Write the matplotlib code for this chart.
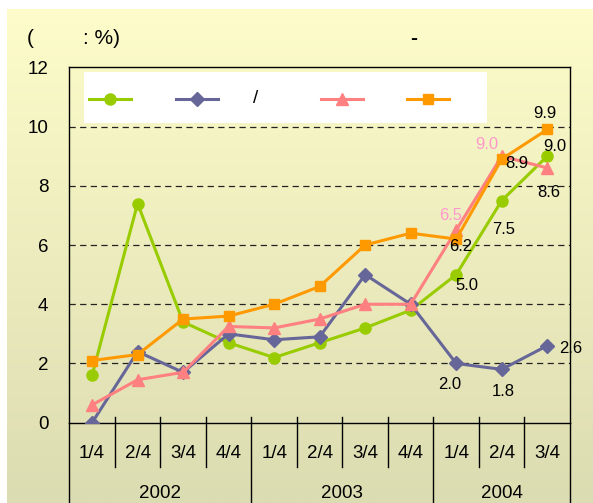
import numpy as np
import matplotlib
matplotlib.use("Agg")
import matplotlib.pyplot as plt
from matplotlib.lines import Line2D
from matplotlib.patches import Rectangle

plt.rcParams['font.family'] = ['Liberation Sans', 'DejaVu Sans']

# data
quarters = ["1/4", "2/4", "3/4", "4/4", "1/4", "2/4", "3/4", "4/4", "1/4", "2/4", "3/4"]
years = ["2002", "2003", "2004"]
year_span = [(0, 3), (4, 7), (8, 10)]
green = [1.6, 7.4, 3.4, 2.7, 2.2, 2.7, 3.2, 3.8, 5.0, 7.5, 9.0]
blue = [0.0, 2.4, 1.7, 3.0, 2.8, 2.9, 5.0, 4.0, 2.0, 1.8, 2.6]
pink = [0.6, 1.45, 1.7, 3.25, 3.2, 3.5, 4.0, 4.0, 6.5, 9.0, 8.6]
orange = [2.1, 2.3, 3.5, 3.6, 4.0, 4.6, 6.0, 6.4, 6.2, 8.9, 9.9]

series = [
    (green, '#99CC00', 'o', 8),
    (blue, '#666699', 'D', 7),
    (pink, '#FF8080', '^', 8),
    (orange, '#FF9900', 's', 6.5),
]

# (index, dx px, dy px, color) for the value labels
labels = [
    [(8, 11, -11, 'k'), (9, 2, -29, 'k'), (10, 8, 10, 'k')],
    [(8, -7, -21, 'k'), (9, 2, -22, 'k'), (10, 23, -3, 'k')],
    [(8, -6, 15, '#FF99CC'), (9, -15, 12, '#FF99CC'), (10, 2, -25, 'k')],
    [(8, 4, -7, 'k'), (9, 15, -4, 'k'), (10, -2, 16, 'k')],
]

W, H = 593, 503
fig = plt.figure(figsize=(W / 100, H / 100), dpi=100)
fig.patch.set_facecolor('white')

# gradient background
bg = fig.add_axes([7 / W, 0, 1 - 7 / W, 1 - 9 / H])
top = np.array([253, 252, 202]) / 255
bot = np.array([220, 220, 178]) / 255
t = np.linspace(0, 1, 256)[:, None]
grad = top + (bot - top) * t
bg.imshow(grad[:, None, :], aspect='auto', extent=[0, 1, 0, 1])
bg.axis('off')

ax = fig.add_axes([69.3 / W, (H - 422.7) / H, 500.7 / W, 355.4 / H])
ax.set_facecolor('none')
x = np.arange(len(quarters))

for yy in [2, 4, 6, 8, 10]:
    ax.axhline(yy, color='#222222', lw=0.9, dashes=(5, 3.5), zorder=1)

for (vals, col, mk, ms), lab in zip(series, labels):
    ax.plot(x, vals, color=col, lw=2.2, marker=mk, ms=ms, mec=col, mfc=col, zorder=3)
    for i, dx, dy, c in lab:
        ax.annotate(f"{vals[i]:.1f}", (x[i], vals[i]), xytext=(dx, dy),
                    textcoords='offset pixels', ha='center', va='center',
                    fontsize=12, color=c, zorder=5)

ax.set_xlim(-0.5, 10.5)
ax.set_ylim(0, 12)
ax.set_yticks(range(0, 13, 2))
ax.tick_params(axis='y', length=0, pad=15, labelsize=13.5)
ax.set_xticks([])
for s in ax.spines.values():
    s.set_color('black')
    s.set_linewidth(1)

# category axis: separators, quarter and year labels
tr = ax.get_xaxis_transform()
for k in range(1, 11):
    low = -0.226 if k in (4, 8) else -0.1243
    ax.plot([k - 0.5, k - 0.5], [0.017, low], color='black', lw=1,
            transform=tr, clip_on=False)
for xe in (-0.5, 10.5):
    ax.plot([xe, xe], [0, -0.226], color='black', lw=1, transform=tr, clip_on=False)
for i, q in enumerate(quarters):
    ax.text(i, -0.088, q, transform=tr, ha='center', va='center', fontsize=13.5)
for yr, (a, b) in zip(years, year_span):
    ax.text((a + b) / 2, -0.198, yr, transform=tr, ha='center', va='center', fontsize=13.5)

# legend box (labels lost in the original)
ax.add_patch(Rectangle((0.029, 0.843), 0.806, 0.144, transform=ax.transAxes,
                       facecolor='white', edgecolor='none', zorder=4))
hx = [89, 176, 321, 407]
for (vals, col, mk, ms), x0 in zip(series, hx):
    x0a = (x0 - 69.3) / 500.7
    x1a = (x0 + 42 - 69.3) / 500.7
    ax.add_line(Line2D([x0a, x1a], [0.911, 0.911], transform=ax.transAxes,
                       color=col, lw=2.2, zorder=5))
    ax.add_line(Line2D([(x0a + x1a) / 2], [0.911], transform=ax.transAxes,
                       marker=mk, ms=ms, color=col, zorder=5))
ax.text((256 - 69.3) / 500.7, 0.911, "/", transform=ax.transAxes,
        ha='center', va='center', fontsize=13.5, zorder=6)

# title pieces
fig.text(27 / W, 1 - 39 / H, "(", ha='left', va='center', fontsize=15)
fig.text(83 / W, 1 - 39 / H, ": %)", ha='left', va='center', fontsize=15)
fig.text(414 / W, 1 - 39 / H, "-", ha='center', va='center', fontsize=15, fontweight='bold')

plt.savefig('out.png', dpi=100)
